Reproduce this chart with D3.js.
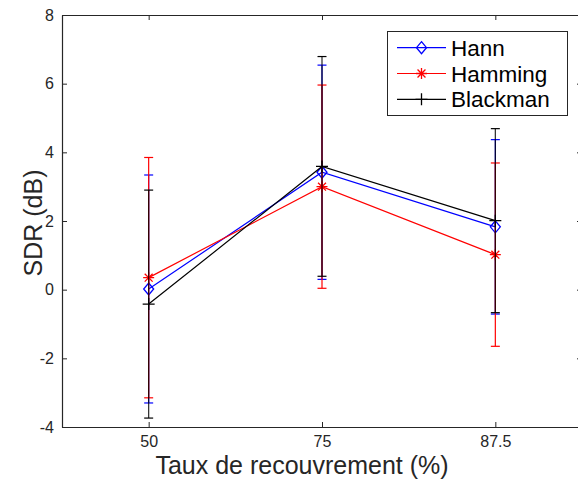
<!DOCTYPE html>
<html><head><meta charset="utf-8">
<script src="https://cdn.jsdelivr.net/npm/d3@7"></script>
<style>body{margin:0;background:#fff}svg{display:block}</style>
</head><body>
<svg id="c" width="578" height="480"></svg>
<script>
const categories = ["50", "75", "87.5"];
const yTicks = [-4, -2, 0, 2, 4, 6, 8];
const hannMean = [0.02, 3.42, 1.83];
const hannErr = [3.32, 3.12, 2.54];
const hammingMean = [0.35, 3.0, 1.02];
const hammingErr = [3.5, 2.96, 2.67];
const blackmanMean = [-0.42, 3.59, 2.01];
const blackmanErr = [3.32, 3.2, 2.68];
const seriesNames = ["Hann", "Hamming", "Blackman"];
const xLabel = "Taux de recouvrement (%)";
const yLabel = "SDR (dB)";

(function () {
const series = [
  {name: seriesNames[0], mean: hannMean, err: hannErr, color: "#0000ff", marker: "diamond"},
  {name: seriesNames[1], mean: hammingMean, err: hammingErr, color: "#ff0000", marker: "asterisk"},
  {name: seriesNames[2], mean: blackmanMean, err: blackmanErr, color: "#000000", marker: "plus"}
];

const svg = d3.select("#c");
const L = 62, R = 582, T = 15, B = 427;
const x = d3.scaleLinear().domain([0.5, 3.5]).range([L, R]);
const y = d3.scaleLinear().domain([-4, 8]).range([B, T]);
const axisColor = "#262626";
const font = "'Liberation Sans', Arial, Helvetica, sans-serif";

const g = svg.append("g");
const idx = categories.map((c, i) => i + 1);
const axB = g.append("g").attr("transform", `translate(0,${B})`)
  .call(d3.axisBottom(x).tickValues(idx).tickFormat((d) => categories[d - 1]).tickSizeInner(-5).tickSizeOuter(0).tickPadding(9));
const axT = g.append("g").attr("transform", `translate(0,${T})`)
  .call(d3.axisTop(x).tickValues(idx).tickFormat("").tickSizeInner(-5).tickSizeOuter(0));
const axL = g.append("g").attr("transform", `translate(${L},0)`)
  .call(d3.axisLeft(y).tickValues(yTicks).tickFormat(d3.format("d")).tickSizeInner(-5).tickSizeOuter(0).tickPadding(8));
const axR = g.append("g").attr("transform", `translate(${R},0)`)
  .call(d3.axisRight(y).tickValues(yTicks).tickFormat("").tickSizeInner(-5).tickSizeOuter(0));
[axB, axT, axL, axR].forEach(a => {
  a.selectAll("path").attr("stroke", axisColor).attr("stroke-width", 1.2);
  a.selectAll("line").attr("stroke", axisColor).attr("stroke-width", 1);
  a.selectAll("text").attr("fill", axisColor).style("font-family", font).style("font-size", "16px");
});
axL.selectAll("text").text(d => d < 0 ? "-" + Math.abs(d) : d);

function drawMarker(sel, type, color, cx, cy) {
  if (type === "diamond") {
    sel.append("path").attr("d", `M${cx},${cy-6}L${cx+5},${cy}L${cx},${cy+6}L${cx-5},${cy}Z`)
      .attr("fill", "none").attr("stroke", color).attr("stroke-width", 1.3);
  } else if (type === "asterisk") {
    const r = 5.5;
    const p = `M${cx-r},${cy}L${cx+r},${cy}M${cx},${cy-r}L${cx},${cy+r}` +
      `M${cx-r*0.72},${cy-r*0.72}L${cx+r*0.72},${cy+r*0.72}M${cx-r*0.72},${cy+r*0.72}L${cx+r*0.72},${cy-r*0.72}`;
    sel.append("path").attr("d", p).attr("stroke", color).attr("stroke-width", 1.3).attr("fill", "none");
  } else {
    const r = 6;
    sel.append("path").attr("d", `M${cx-r},${cy}L${cx+r},${cy}M${cx},${cy-r}L${cx},${cy+r}`)
      .attr("stroke", color).attr("stroke-width", 1.3).attr("fill", "none");
  }
}

const plot = svg.append("g");
const line = d3.line().x((d, i) => x(i + 1)).y(d => y(d));
series.forEach(s => {
  const sg = plot.append("g");
  sg.append("path").datum(s.mean).attr("d", line).attr("fill", "none")
    .attr("stroke", s.color).attr("stroke-width", 1.2);
  s.mean.forEach((m, i) => {
    const cx = x(i + 1), lo = y(m - s.err[i]), hi = y(m + s.err[i]);
    sg.append("line").attr("x1", cx).attr("x2", cx).attr("y1", lo).attr("y2", hi)
      .attr("stroke", s.color).attr("stroke-width", 1.2).attr("stroke-opacity", s.color === "#000000" ? 0.85 : 1);
    [lo, hi].forEach(yy => sg.append("line").attr("x1", cx - 4.5).attr("x2", cx + 4.5)
      .attr("y1", yy).attr("y2", yy).attr("stroke", s.color).attr("stroke-width", 1.2));
    drawMarker(sg, s.marker, s.color, cx, y(m));
  });
});

svg.append("text").attr("x", 302).attr("y", 474).attr("text-anchor", "middle")
  .attr("fill", axisColor).style("font-family", font).style("font-size", "25px").text(xLabel);
svg.append("text").attr("transform", `translate(42,223) rotate(-90)`).attr("text-anchor", "middle")
  .attr("fill", axisColor).style("font-family", font).style("font-size", "25px").text(yLabel);

const lg = svg.append("g");
lg.append("rect").attr("x", 387.5).attr("y", 31.5).attr("width", 180).attr("height", 84)
  .attr("fill", "#fff").attr("stroke", axisColor).attr("stroke-width", 1);
series.forEach((s, i) => {
  const yy = 47.7 + i * 25.8;
  lg.append("line").attr("x1", 397).attr("x2", 446).attr("y1", yy).attr("y2", yy)
    .attr("stroke", s.color).attr("stroke-width", 1.2);
  drawMarker(lg, s.marker, s.color, 421.5, yy);
  lg.append("text").attr("x", 451).attr("y", yy + 8).attr("fill", "#000")
    .style("font-family", font).style("font-size", "22.5px").text(s.name);
});
})();
</script>
</body></html>
